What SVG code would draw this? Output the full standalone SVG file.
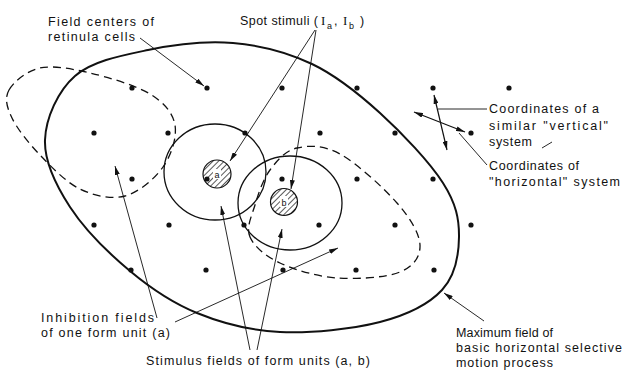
<svg xmlns="http://www.w3.org/2000/svg" width="624" height="370" viewBox="0 0 624 370">
<style>
.t{font-family:"Liberation Sans",Arial,sans-serif;font-size:12.5px;fill:#111}
.ts{font-family:"Liberation Sans",Arial,sans-serif;font-size:9px;fill:#111}
.tr{font-family:"Liberation Serif","Times New Roman",serif;font-size:13px;fill:#111}
.big{fill:none;stroke:#111;stroke-width:2}
.fld{fill:none;stroke:#111;stroke-width:1.3}
.dash{fill:none;stroke:#111;stroke-width:1.3;stroke-dasharray:8 5}
.ld{fill:none;stroke:#111;stroke-width:0.9}
.arr{marker-end:url(#ah)}
.arr2{marker-end:url(#ah);marker-start:url(#ah)}
.dot{fill:#111}
.hat{fill:url(#hatch);stroke:#111;stroke-width:1.2}
</style>
<defs>
<marker id="ah" markerUnits="userSpaceOnUse" markerWidth="10" markerHeight="5" refX="9" refY="2.5" orient="auto-start-reverse">
<path d="M0,0 L9,2.5 L0,5 Z" fill="#111"/>
</marker>
<pattern id="hatch" patternUnits="userSpaceOnUse" width="4" height="4" patternTransform="rotate(45)">
<rect width="4" height="4" fill="#fff"/>
<line x1="0" y1="0" x2="0" y2="4" stroke="#111" stroke-width="1.4"/>
</pattern>
</defs>
<rect width="624" height="370" fill="#fff"/>

<g id="max-field">
<path class="big" d="M233,43 C260.3,45.3 287.5,52.3 312,64 C336.5,75.7 358.2,93.2 380,113 C401.8,132.8 429.8,162.3 443,183 C456.2,203.7 459.2,219.2 459,237 C458.8,254.8 455.2,275.8 442,290 C428.8,304.2 407,315 380,322 C353,329 310.5,333.5 280,332 C249.5,330.5 222,323.2 197,313 C172,302.8 151.2,288.7 130,271 C108.8,253.3 84.2,228.8 70,207 C55.8,185.2 44.2,161.8 45,140 C45.8,118.2 57.8,91 75,76 C92.2,61 121.7,55.5 148,50 C174.3,44.5 205.7,40.7 233,43 Z"/>
</g>

<g id="inhibition-a">
<path class="dash" d="M9,90 C13.7,81.7 26.5,70.8 40,68 C53.5,65.2 71.7,68.7 90,73 C108.3,77.3 135.8,85.3 150,94 C164.2,102.7 172.8,112.8 175,125 C177.2,137.2 171.3,155.2 163,167 C154.7,178.8 138.8,192.3 125,196 C111.2,199.7 94.2,195.8 80,189 C65.8,182.2 51.3,166.8 40,155 C28.7,143.2 17.2,128.8 12,118 C6.8,107.2 4.3,98.3 9,90 Z"/>
</g>

<g id="inhibition-b">
<path class="dash" d="M250,237 C245.8,227.3 251.7,216.2 255,205 C258.3,193.8 263,179.5 270,170 C277,160.5 285.3,150.7 297,148 C308.7,145.3 323.3,144.8 340,154 C356.7,163.2 383.7,187.8 397,203 C410.3,218.2 419.5,233.5 420,245 C420.5,256.5 413.8,266.5 400,272 C386.2,277.5 357,279.5 337,278 C317,276.5 294.5,269.8 280,263 C265.5,256.2 254.2,246.7 250,237 Z"/>
</g>

<g id="stimulus-field-a">
<ellipse class="fld" cx="215" cy="172" rx="51" ry="48"/>
</g>
<g id="stimulus-field-b">
<ellipse class="fld" cx="290" cy="203" rx="52" ry="47"/>
</g>

<g id="spot-a">
<circle class="hat" cx="217" cy="174" r="14"/>
<rect x="213" y="169" width="8" height="10" fill="#fff"/>
<text class="ts" x="217" y="178" text-anchor="middle">a</text>
</g>
<g id="spot-b">
<circle class="hat" cx="284" cy="202" r="13.5"/>
<rect x="280" y="196" width="8" height="11" fill="#fff"/>
<text class="ts" x="284" y="206" text-anchor="middle">b</text>
</g>

<g id="retinula-dots">
<circle class="dot" cx="132" cy="88" r="2.6"/>
<circle class="dot" cx="207" cy="88" r="2.6"/>
<circle class="dot" cx="282" cy="88" r="2.6"/>
<circle class="dot" cx="357" cy="88" r="2.6"/>
<circle class="dot" cx="433" cy="88" r="2.6"/>
<circle class="dot" cx="509" cy="88" r="2.6"/>
<circle class="dot" cx="94" cy="133" r="2.6"/>
<circle class="dot" cx="168" cy="133" r="2.6"/>
<circle class="dot" cx="245" cy="133" r="2.6"/>
<circle class="dot" cx="320" cy="133" r="2.6"/>
<circle class="dot" cx="395" cy="133" r="2.6"/>
<circle class="dot" cx="471" cy="133" r="2.6"/>
<circle class="dot" cx="132" cy="179" r="2.6"/>
<circle class="dot" cx="207" cy="179" r="2.6"/>
<circle class="dot" cx="282" cy="179" r="2.6"/>
<circle class="dot" cx="357" cy="179" r="2.6"/>
<circle class="dot" cx="433" cy="179" r="2.6"/>
<circle class="dot" cx="94" cy="225" r="2.6"/>
<circle class="dot" cx="169" cy="225" r="2.6"/>
<circle class="dot" cx="244" cy="225" r="2.6"/>
<circle class="dot" cx="319" cy="225" r="2.6"/>
<circle class="dot" cx="395" cy="225" r="2.6"/>
<circle class="dot" cx="471" cy="225" r="2.6"/>
<circle class="dot" cx="131" cy="270" r="2.6"/>
<circle class="dot" cx="206" cy="270" r="2.6"/>
<circle class="dot" cx="283" cy="270" r="2.6"/>
<circle class="dot" cx="356" cy="270" r="2.6"/>
<circle class="dot" cx="434" cy="270" r="2.6"/>
</g>

<g id="coordinate-axes">
<line class="ld arr2" x1="434" y1="95" x2="447" y2="150" style="stroke-width:1.2"/>
<line class="ld arr2" x1="414" y1="112" x2="465" y2="132" style="stroke-width:1.2"/>
</g>

<g id="connectors">
<line class="ld arr" x1="140" y1="38" x2="204" y2="86"/>
<line class="ld arr" x1="315" y1="30" x2="230" y2="161"/>
<line class="ld arr" x1="316" y1="30" x2="291" y2="189"/>
<line class="ld" x1="438" y1="109" x2="487" y2="109"/>
<line class="ld" x1="487" y1="165" x2="459" y2="133"/>
<line class="ld" x1="542" y1="148" x2="552" y2="142"/>
<line class="ld arr" x1="157" y1="318" x2="115" y2="166"/>
<line class="ld arr" x1="175" y1="322" x2="338" y2="248"/>
<line class="ld arr" x1="250" y1="350" x2="221" y2="206"/>
<line class="ld arr" x1="257" y1="350" x2="282" y2="229"/>
<line class="ld arr" x1="484" y1="321" x2="444" y2="293"/>
</g>

<g id="label-field-centers">
<text class="t" x="48" y="25.5" textLength="106" lengthAdjust="spacing">Field centers of</text>
<text class="t" x="48" y="40.5" textLength="87" lengthAdjust="spacing">retinula cells</text>
</g>
<g id="label-spot-stimuli">
<text class="t" x="240" y="25" textLength="78" lengthAdjust="spacing">Spot stimuli (</text>
<text class="tr" x="321" y="25">I</text>
<text class="ts" x="327" y="28.5">a</text>
<text class="t" x="334" y="25">,</text>
<text class="tr" x="343" y="25">I</text>
<text class="ts" x="349" y="28.5">b</text>
<text class="t" x="360" y="25">)</text>
</g>
<g id="label-vertical">
<text class="t" x="489" y="113" textLength="110" lengthAdjust="spacing">Coordinates of a</text>
<text class="t" x="489" y="129.5" textLength="119" lengthAdjust="spacing">similar "vertical"</text>
<text class="t" x="489" y="146" textLength="43" lengthAdjust="spacing">system</text>
</g>
<g id="label-horizontal">
<text class="t" x="489" y="169.5" textLength="90" lengthAdjust="spacing">Coordinates of</text>
<text class="t" x="489" y="186" textLength="131" lengthAdjust="spacing">"horizontal" system</text>
</g>
<g id="label-inhibition">
<text class="t" x="41" y="322" textLength="113" lengthAdjust="spacing">Inhibition fields</text>
<text class="t" x="41" y="337" textLength="129" lengthAdjust="spacing">of one form unit (a)</text>
</g>
<g id="label-stimulus-fields">
<text class="t" x="146" y="365" textLength="224" lengthAdjust="spacing">Stimulus fields of form units (a, b)</text>
</g>
<g id="label-maximum">
<text class="t" x="456" y="337" textLength="97" lengthAdjust="spacing">Maximum field of</text>
<text class="t" x="456" y="352" textLength="166" lengthAdjust="spacing">basic horizontal selective</text>
<text class="t" x="456" y="367" textLength="97" lengthAdjust="spacing">motion process</text>
</g>
</svg>
